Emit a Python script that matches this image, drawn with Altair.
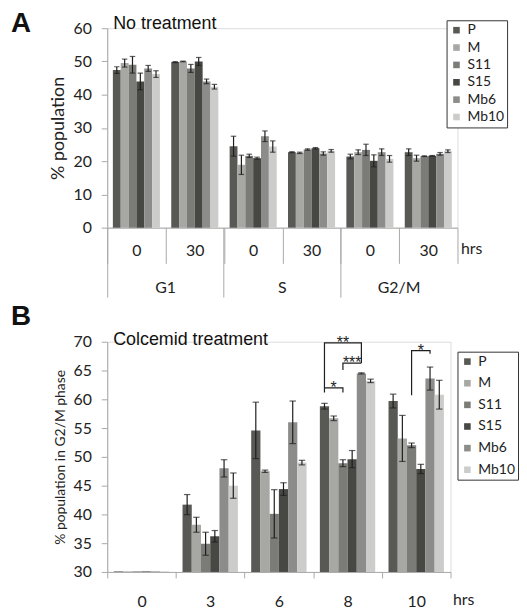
import altair as alt
import pandas as pd

# ---------------- data ----------------
series = ["P", "M", "S11", "S15", "Mb6", "Mb10"]
colors = ["#585855", "#a7a7a4", "#7b7b78", "#474743", "#8c8c8a", "#cccccb"]

# Panel A: no treatment
phases = ["G1", "S", "G2/M"]
hrs_a = ["0", "30"]
a_P = [47.4, 49.8, 24.5, 22.7, 21.4, 22.7]
a_M = [49.5, 50.0, 18.9, 22.5, 22.7, 20.9]
a_S11 = [49.0, 47.9, 21.6, 23.5, 23.4, 21.5]
a_S15 = [44.0, 50.0, 20.9, 23.9, 20.1, 21.6]
a_Mb6 = [47.9, 44.0, 27.5, 22.3, 22.7, 22.2]
a_Mb10 = [46.2, 42.4, 24.4, 23.1, 20.7, 23.0]
a_P_err = [1.0, 0.15, 3.0, 0.15, 0.7, 1.0]
a_M_err = [1.2, 0.1, 2.9, 0.2, 0.7, 0.9]
a_S11_err = [2.5, 1.2, 0.5, 0.2, 1.7, 0.1]
a_S15_err = [2.5, 1.2, 0.3, 0.2, 1.8, 0.1]
a_Mb6_err = [0.9, 0.7, 1.6, 0.5, 1.0, 0.4]
a_Mb10_err = [1.0, 0.7, 1.7, 0.4, 1.0, 0.4]

# Panel B: colcemid treatment
hrs_b = ["0", "3", "6", "8", "10"]
b_P = [30.1, 41.7, 54.6, 58.8, 59.7]
b_M = [30.1, 38.2, 47.5, 56.7, 53.2]
b_S11 = [30.1, 34.9, 40.1, 48.9, 52.0]
b_S15 = [30.1, 36.2, 44.4, 49.6, 47.9]
b_Mb6 = [30.1, 48.0, 56.0, 64.5, 63.6]
b_Mb10 = [30.1, 45.0, 49.0, 63.2, 60.8]
b_P_err = [0, 1.75, 4.9, 0.5, 1.2]
b_M_err = [0, 1.3, 0.2, 0.4, 4.0]
b_S11_err = [0, 2.0, 4.2, 0.6, 0.4]
b_S15_err = [0, 1.0, 1.1, 1.5, 0.8]
b_Mb6_err = [0, 1.5, 3.7, 0.1, 2.0]
b_Mb10_err = [0, 2.2, 0.4, 0.3, 2.5]

# significance brackets (panel B): bracket id, hrs, series anchor, y level
br_id = ["a", "a", "a", "a", "b", "b", "b", "b", "c", "c", "c", "d", "d", "d", "d"]
br_hr = ["8"] * 11 + ["10"] * 4
br_series = ["P", "P", "S11", "S11", "P", "P", "Mb6", "Mb6", "S11", "S11", "Mb6",
             "S11", "S11", "Mb6", "Mb6"]
br_y = [61.2, 62.0, 62.0, 61.2, 62.0, 69.8, 69.8, 66.3, 65.1, 66.3, 66.3,
        60.7, 68.45, 68.45, 67.9]
star_text = ["*", "**", "***", "*"]
star_hr = ["8", "8", "8", "10"]
star_series = ["M", "S11", "S15", "S15"]
star_y = [62.0, 69.8, 66.3, 68.45]

# ---------------- tables ----------------
a_vals = {"P": (a_P, a_P_err), "M": (a_M, a_M_err), "S11": (a_S11, a_S11_err),
          "S15": (a_S15, a_S15_err), "Mb6": (a_Mb6, a_Mb6_err), "Mb10": (a_Mb10, a_Mb10_err)}
keys_a = [f"{p}|{h}" for p in phases for h in hrs_a]
rows = []
for s in series:
    v, e = a_vals[s]
    for i, k in enumerate(keys_a):
        rows.append({"key": k, "series": s, "value": v[i], "lo": v[i] - e[i], "hi": v[i] + e[i]})
df_a = pd.DataFrame(rows)

b_vals = {"P": (b_P, b_P_err), "M": (b_M, b_M_err), "S11": (b_S11, b_S11_err),
          "S15": (b_S15, b_S15_err), "Mb6": (b_Mb6, b_Mb6_err), "Mb10": (b_Mb10, b_Mb10_err)}
rows = []
for s in series:
    v, e = b_vals[s]
    for i, h in enumerate(hrs_b):
        rows.append({"hr": h, "series": s, "value": v[i], "err": e[i],
                     "lo": v[i] - e[i], "hi": v[i] + e[i]})
df_b = pd.DataFrame(rows)
df_b_err = df_b[df_b["err"] > 0]

df_br = pd.DataFrame({"br": br_id, "hr": br_hr, "series": br_series, "y": br_y,
                      "ord": list(range(len(br_id)))})
df_star = pd.DataFrame({"t": star_text, "hr": star_hr, "series": star_series, "y": star_y})

# ---------------- style ----------------
GRAY = "#a8a8a8"
INK = "#1e1e1e"
FONT = "Lato"
W_A, H_A = 353, 201
W_B, H_B = 346, 232


def leg(x, y, rowpad):
    return alt.Legend(title=None, orient="none", legendX=x, legendY=y, symbolType="square",
                      symbolSize=44, symbolStrokeWidth=0, labelFont=FONT, labelFontSize=14,
                      labelColor="#222", strokeColor="#333", fillColor="white", padding=3,
                      rowPadding=rowpad, labelOffset=4)


def xoff():
    return alt.XOffset("series:N", sort=series,
                       scale=alt.Scale(paddingOuter=0.72, paddingInner=0))


# ---------------- panel A ----------------
def xa(axis):
    return alt.X("key:N", sort=keys_a, scale=alt.Scale(paddingInner=0, paddingOuter=0),
                 axis=axis, title=None)


axis_hrs = alt.Axis(orient="bottom", tickBand="extent", tickSize=36, tickColor=GRAY,
                    domainColor=GRAY, labelExpr="split(datum.label, '|')[1]", labelAngle=0,
                    labelFont=FONT, labelFontSize=16, labelColor="#222", labelPadding=-21,
                    title="hrs", titleFont=FONT, titleFontSize=16, titleFontWeight="normal",
                    titleColor="#222", titleX=356, titleY=21, titleAlign="left",
                    titleBaseline="middle", titleAngle=0)
axis_div = alt.Axis(orient="bottom", values=[f"{p}|0" for p in phases], bandPosition=0,
                    tickSize=70, tickColor=GRAY, domain=False, labels=False, title=None)
axis_phase = alt.Axis(orient="bottom", values=[f"{p}|30" for p in phases], bandPosition=0,
                      ticks=False, domain=False, labelExpr="split(datum.label, '|')[0]",
                      labelAngle=0, labelFont=FONT, labelFontSize=16, labelColor="#222",
                      labelPadding=52, labelOffset=-W_A / 12, title=None)

y_axis_a = alt.Axis(values=list(range(0, 61, 10)), grid=False, tickSize=6, tickColor=GRAY,
                    domainColor=GRAY, labelFont=FONT, labelFontSize=16, labelColor="#222",
                    labelPadding=10, labelOverlap=False, titleFont=FONT, titleFontSize=18,
                    titleFontWeight="normal", titleColor="#222", titlePadding=5)
ys_a = alt.Scale(domain=[0, 60], nice=False)
TA = "% population"


def ya(field):
    return alt.Y(field, scale=ys_a, axis=y_axis_a, title=TA)


base_a = alt.Chart(df_a)
bars_a = base_a.mark_bar().encode(
    x=xa(axis_hrs), xOffset=xoff(), y=ya("value:Q"),
    color=alt.Color("series:N", sort=series, scale=alt.Scale(domain=series, range=colors),
                    legend=leg(342, -8, 3.5)))
err_a = base_a.mark_rule(color=INK, strokeWidth=1.2).encode(
    x=xa(axis_div), xOffset=xoff(), y=ya("lo:Q"), y2="hi:Q")
caplo_a = base_a.mark_tick(color=INK, thickness=1.2, size=5.5, orient="horizontal").encode(
    x=xa(axis_phase), xOffset=xoff(), y=ya("lo:Q"))
caphi_a = base_a.mark_tick(color=INK, thickness=1.2, size=5.5, orient="horizontal").encode(
    x=xa(None), xOffset=xoff(), y=ya("hi:Q"))

lab_a = alt.Chart(pd.DataFrame({"t": ["A"]})).mark_text(
    font="Liberation Sans", fontSize=28, fontWeight="bold", align="left",
    baseline="alphabetic", color="#111").encode(
    x=alt.value(-97), y=alt.value(4), text="t:N")
sub_a = alt.Chart(pd.DataFrame({"t": ["No treatment"]})).mark_text(
    font="Liberation Sans", fontSize=18, align="left", baseline="alphabetic",
    color="#111").encode(x=alt.value(6), y=alt.value(0.5), text="t:N")

panel_a = alt.layer(bars_a, err_a, caplo_a, caphi_a, lab_a, sub_a).resolve_axis(
    x="independent").properties(width=W_A, height=H_A)

# ---------------- panel B ----------------
axis_b = alt.Axis(orient="bottom", tickBand="extent", tickSize=6, tickColor=GRAY,
                  domainColor=GRAY, labelAngle=0, labelFont=FONT, labelFontSize=16,
                  labelColor="#222", labelPadding=16,
                  title="hrs", titleFont=FONT, titleFontSize=16, titleFontWeight="normal",
                  titleColor="#222", titleX=348, titleY=28, titleAlign="left",
                  titleBaseline="middle", titleAngle=0)


def xb(axis):
    return alt.X("hr:N", sort=hrs_b, scale=alt.Scale(paddingInner=0, paddingOuter=0),
                 axis=axis, title=None)


y_axis_b = alt.Axis(values=list(range(30, 71, 5)), grid=False, tickSize=6, tickColor=GRAY,
                    domainColor=GRAY, labelFont=FONT, labelFontSize=16, labelColor="#222",
                    labelPadding=10, labelOverlap=False, titleFont=FONT, titleFontSize=14,
                    titleFontWeight="normal", titleColor="#222", titlePadding=5)
ys_b = alt.Scale(domain=[30, 70], nice=False)
TB = "% population in G2/M phase"


def yb(field):
    return alt.Y(field, scale=ys_b, axis=y_axis_b, title=TB)


bars_b = alt.Chart(df_b).mark_bar().encode(
    x=xb(axis_b), xOffset=xoff(), y=yb("value:Q"), y2=alt.datum(30),
    color=alt.Color("series:N", sort=series, scale=alt.Scale(domain=series, range=colors),
                    legend=leg(353, 10, 7.8)))
base_be = alt.Chart(df_b_err)
err_b = base_be.mark_rule(color=INK, strokeWidth=1.2).encode(
    x=xb(axis_b), xOffset=xoff(), y=yb("lo:Q"), y2="hi:Q")
caplo_b = base_be.mark_tick(color=INK, thickness=1.2, size=6.5, orient="horizontal").encode(
    x=xb(axis_b), xOffset=xoff(), y=yb("lo:Q"))
caphi_b = base_be.mark_tick(color=INK, thickness=1.2, size=6.5, orient="horizontal").encode(
    x=xb(axis_b), xOffset=xoff(), y=yb("hi:Q"))
brackets = alt.Chart(df_br).mark_line(color=INK, strokeWidth=1.2).encode(
    x=xb(axis_b), xOffset=xoff(), y=yb("y:Q"), detail="br:N", order="ord:Q")
stars = alt.Chart(df_star).mark_text(font="Liberation Sans", fontSize=16,
                                     baseline="alphabetic", dy=5, color=INK).encode(
    x=xb(axis_b), xOffset=xoff(), y=yb("y:Q"), text="t:N")

lab_b = alt.Chart(pd.DataFrame({"t": ["B"]})).mark_text(
    font="Liberation Sans", fontSize=28, fontWeight="bold", align="left",
    baseline="alphabetic", color="#111").encode(
    x=alt.value(-97), y=alt.value(-16.7), text="t:N")
sub_b = alt.Chart(pd.DataFrame({"t": ["Colcemid treatment"]})).mark_text(
    font="Liberation Sans", fontSize=18, align="left", baseline="alphabetic",
    color="#111").encode(x=alt.value(6), y=alt.value(3.3), text="t:N")

panel_b = alt.layer(bars_b, err_b, caplo_b, caphi_b, brackets, stars, lab_b, sub_b).properties(
    width=W_B, height=H_B)

chart = alt.vconcat(panel_a, panel_b, spacing=4).resolve_scale(
    x="independent", y="independent", xOffset="independent").resolve_legend(
    color="independent").properties(padding={"left": 2, "top": -1, "right": 0, "bottom": 0}
).configure_view(stroke=None).configure(background="white")

chart.save("out.html", embed_options={"renderer": "svg", "actions": False})
